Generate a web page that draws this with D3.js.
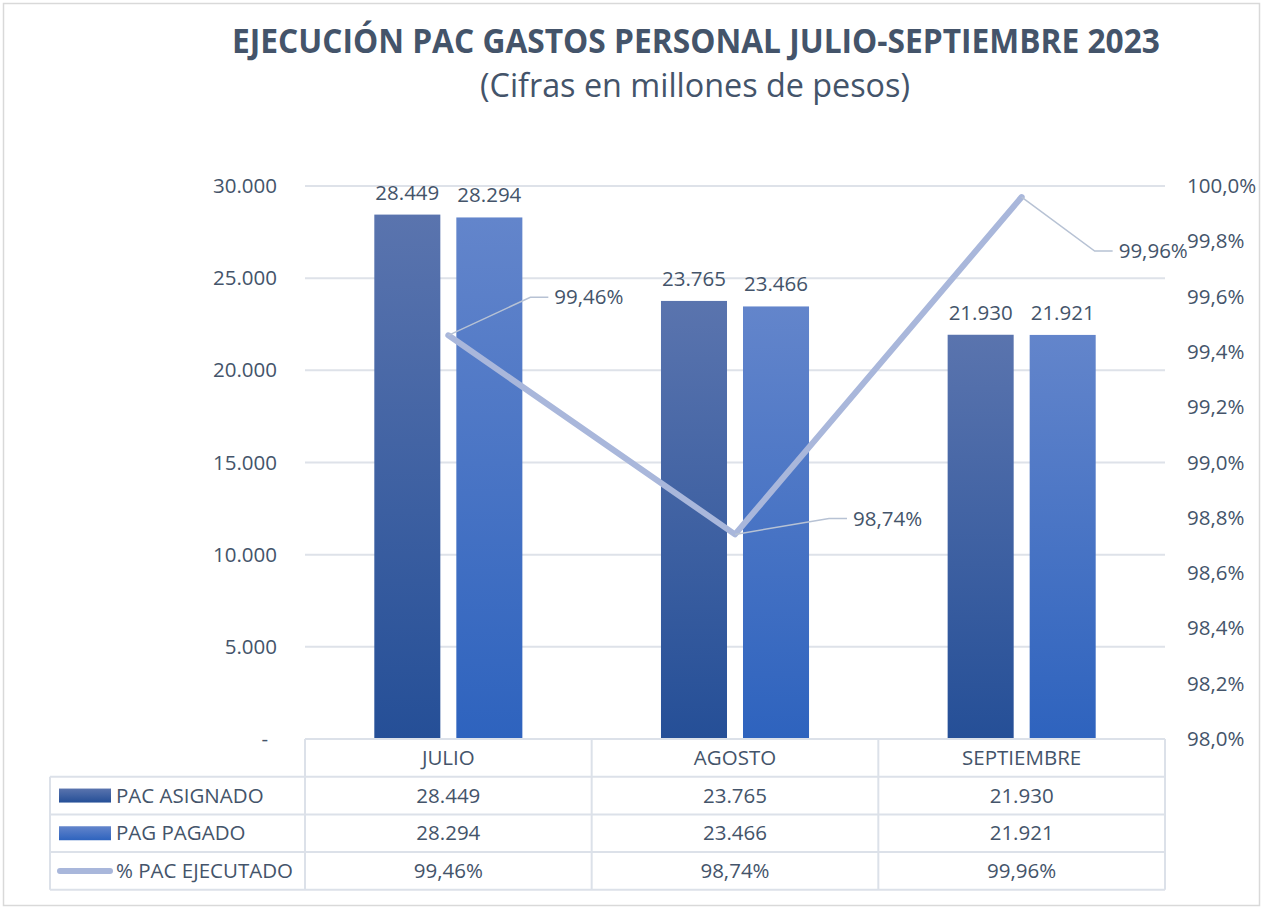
<!DOCTYPE html>
<html>
<head>
<meta charset="utf-8">
<script src="https://cdn.jsdelivr.net/npm/d3@7"></script>
<style>
  body { margin: 0; background: #fff; }
  svg text { font-family: "Open Sans", sans-serif; fill: #44546A; }
</style>
</head>
<body>
<div id="chart"></div>
<script>
// datos
var categories = ['JULIO', 'AGOSTO', 'SEPTIEMBRE'];
var pacAsignado = [28449, 23765, 21930];
var pagPagado = [28294, 23466, 21921];
var pacEjecutado = [0.9946, 0.9874, 0.9996];
var leftTicks = [0, 5000, 10000, 15000, 20000, 25000, 30000];
var rightTicks = [0.98, 0.982, 0.984, 0.986, 0.988, 0.99, 0.992, 0.994, 0.996, 0.998, 1.0];
var seriesNames = ['PAC ASIGNADO', 'PAG PAGADO', '% PAC EJECUTADO'];

var width = 1264;
var height = 909;
var plot = {left: 305, right: 1165, top: 186, bottom: 739};
var rowH = 37.7;
var fs = 20.5;

var gridColor = '#DEE2E9';
var lineColor = '#A9B7DB';
var leaderColor = '#B7C2D4';

var loc = d3.formatLocale({decimal: ',', thousands: '.', grouping: [3], currency: ['$', '']});
var fmtNum = loc.format(',d');
var fmtPct1 = loc.format('.1%');
var fmtPct2 = loc.format('.2%');

var svg = d3.select('#chart').append('svg')
  .attr('width', width).attr('height', height);

// gradientes de las barras
var defs = svg.append('defs');
var grads = [
  {id: 'gAsig', top: '#5A74AE', bottom: '#254F97'},
  {id: 'gPag', top: '#6385CB', bottom: '#2E63BE'}
];
grads.forEach(function(g) {
  var lg = defs.append('linearGradient').attr('id', g.id)
    .attr('x1', 0).attr('y1', 0).attr('x2', 0).attr('y2', 1);
  lg.append('stop').attr('offset', '0%').attr('stop-color', g.top);
  lg.append('stop').attr('offset', '100%').attr('stop-color', g.bottom);
});

// marco
svg.append('rect')
  .attr('x', 3.5).attr('y', 3.5)
  .attr('width', 1256).attr('height', 902)
  .attr('fill', 'none').attr('stroke', '#D9D9D9').attr('stroke-width', 1.5);

// titulo
svg.append('text')
  .attr('x', 696).attr('y', 53)
  .attr('text-anchor', 'middle')
  .attr('font-size', 34).attr('font-weight', 'bold')
  .attr('textLength', 928).attr('lengthAdjust', 'spacingAndGlyphs')
  .text('EJECUCIÓN PAC GASTOS PERSONAL JULIO-SEPTIEMBRE 2023');
svg.append('text')
  .attr('x', 695).attr('y', 97)
  .attr('text-anchor', 'middle')
  .attr('font-size', 32)
  .attr('textLength', 430).attr('lengthAdjust', 'spacingAndGlyphs')
  .text('(Cifras en millones de pesos)');

// escalas
var x = d3.scaleBand().domain(categories).range([plot.left, plot.right]);
var x1 = d3.scaleBand().domain([0, 1]).range([0, x.bandwidth()])
  .paddingInner(0.195).paddingOuter(0.845);
var y = d3.scaleLinear().domain([0, 30000]).range([plot.bottom, plot.top]);
var y2 = d3.scaleLinear().domain([0.98, 1.0]).range([plot.bottom, plot.top]);

// lineas de cuadricula
svg.append('g').selectAll('line').data(leftTicks.slice(1)).enter()
  .append('line')
  .attr('x1', plot.left).attr('x2', plot.right)
  .attr('y1', function(d) { return y(d); })
  .attr('y2', function(d) { return y(d); })
  .attr('stroke', gridColor).attr('stroke-width', 2);

// eje izquierdo
var yAxis = d3.axisLeft(y).tickValues(leftTicks).tickSize(0).tickPadding(0)
  .tickFormat(function(d) { return d === 0 ? '-' : fmtNum(d); });
var gy = svg.append('g').attr('transform', 'translate(277,0)').call(yAxis);
gy.select('.domain').remove();
gy.selectAll('text').attr('font-size', fs).attr('fill', '#44546A')
  .attr('font-family', '"Open Sans", sans-serif')
  .attr('dx', function(d) { return d === 0 ? -9 : 0; });

// eje derecho
var y2Axis = d3.axisRight(y2).tickValues(rightTicks).tickSize(0).tickPadding(0)
  .tickFormat(fmtPct1);
var gy2 = svg.append('g').attr('transform', 'translate(1187,0)').call(y2Axis);
gy2.select('.domain').remove();
gy2.selectAll('text').attr('font-size', fs).attr('fill', '#44546A')
  .attr('font-family', '"Open Sans", sans-serif');

// barras
var barData = [];
categories.forEach(function(c, i) {
  barData.push({cat: c, s: 0, v: pacAsignado[i]});
  barData.push({cat: c, s: 1, v: pagPagado[i]});
});
var barG = svg.append('g');
barG.selectAll('rect').data(barData).enter()
  .append('rect')
  .attr('x', function(d) { return x(d.cat) + x1(d.s); })
  .attr('y', function(d) { return y(d.v); })
  .attr('width', x1.bandwidth())
  .attr('height', function(d) { return y(0) - y(d.v); })
  .attr('fill', function(d) { return d.s === 0 ? 'url(#gAsig)' : 'url(#gPag)'; });
barG.selectAll('text').data(barData).enter()
  .append('text')
  .attr('x', function(d) { return x(d.cat) + x1(d.s) + x1.bandwidth() / 2; })
  .attr('y', function(d) { return y(d.v) - 15; })
  .attr('text-anchor', 'middle')
  .attr('font-size', fs)
  .text(function(d) { return fmtNum(d.v); });

// linea % ejecutado
var cx = function(c) { return x(c) + x.bandwidth() / 2; };
var line = d3.line()
  .x(function(d, i) { return cx(categories[i]); })
  .y(function(d) { return y2(d); });
svg.append('path').datum(pacEjecutado)
  .attr('d', line)
  .attr('fill', 'none').attr('stroke', lineColor)
  .attr('stroke-width', 6).attr('stroke-linejoin', 'round').attr('stroke-linecap', 'round');

// etiquetas con lineas guia
var labelOffsets = [{dx: 106, dy: -38}, {dx: 118, dy: -16}, {dx: 97, dy: 54}];
var lblG = svg.append('g');
pacEjecutado.forEach(function(v, i) {
  var px = cx(categories[i]);
  var py = y2(v);
  var o = labelOffsets[i];
  var tx = px + o.dx;
  var ty = py + o.dy;
  lblG.append('polyline')
    .attr('points', [[px, py], [tx - 24, ty], [tx - 6, ty]].map(function(p) { return p.join(','); }).join(' '))
    .attr('fill', 'none').attr('stroke', leaderColor).attr('stroke-width', 1.5);
  lblG.append('text')
    .attr('x', tx).attr('y', ty)
    .attr('dy', '0.35em')
    .attr('font-size', fs)
    .text(fmtPct2(v));
});

// tabla de datos
var tableTop = plot.bottom;
var legendLeft = 50;
var tbl = svg.append('g');
var borderColor = '#DCE1E9';
var rowsTop = tableTop + rowH;
var tableBottom = rowsTop + rowH * 3;

// lineas horizontales
tbl.append('line').attr('x1', plot.left).attr('x2', plot.right)
  .attr('y1', tableTop).attr('y2', tableTop)
  .attr('stroke', borderColor).attr('stroke-width', 2);
[0, 1, 2, 3].forEach(function(r) {
  tbl.append('line').attr('x1', legendLeft).attr('x2', plot.right)
    .attr('y1', rowsTop + r * rowH).attr('y2', rowsTop + r * rowH)
    .attr('stroke', borderColor).attr('stroke-width', 2);
});
// lineas verticales
tbl.append('line').attr('x1', legendLeft).attr('x2', legendLeft)
  .attr('y1', rowsTop).attr('y2', tableBottom)
  .attr('stroke', borderColor).attr('stroke-width', 2);
categories.concat(['end']).forEach(function(c, i) {
  var xx = i < categories.length ? x(c) : plot.right;
  tbl.append('line').attr('x1', xx).attr('x2', xx)
    .attr('y1', tableTop).attr('y2', tableBottom)
    .attr('stroke', borderColor).attr('stroke-width', 2);
});

// encabezados
tbl.selectAll('.hdr').data(categories).enter()
  .append('text').attr('class', 'hdr')
  .attr('x', function(d) { return cx(d); })
  .attr('y', tableTop + rowH / 2).attr('dy', '0.35em')
  .attr('text-anchor', 'middle').attr('font-size', fs)
  .text(function(d) { return d; });

// filas
var rows = [
  pacAsignado.map(fmtNum),
  pagPagado.map(fmtNum),
  pacEjecutado.map(fmtPct2)
];
rows.forEach(function(vals, r) {
  var ry = rowsTop + r * rowH + rowH / 2;
  vals.forEach(function(v, i) {
    tbl.append('text')
      .attr('x', cx(categories[i])).attr('y', ry).attr('dy', '0.35em')
      .attr('text-anchor', 'middle').attr('font-size', fs)
      .text(v);
  });
  // claves de leyenda
  if (r < 2) {
    tbl.append('rect')
      .attr('x', 59).attr('y', ry - 7).attr('width', 52).attr('height', 14)
      .attr('fill', r === 0 ? 'url(#gAsig)' : 'url(#gPag)');
  } else {
    tbl.append('line')
      .attr('x1', 60).attr('x2', 110).attr('y1', ry).attr('y2', ry)
      .attr('stroke', lineColor).attr('stroke-width', 6).attr('stroke-linecap', 'round');
  }
  tbl.append('text')
    .attr('x', 116).attr('y', ry).attr('dy', '0.35em')
    .attr('font-size', fs)
    .text(seriesNames[r]);
});
</script>
</body>
</html>
